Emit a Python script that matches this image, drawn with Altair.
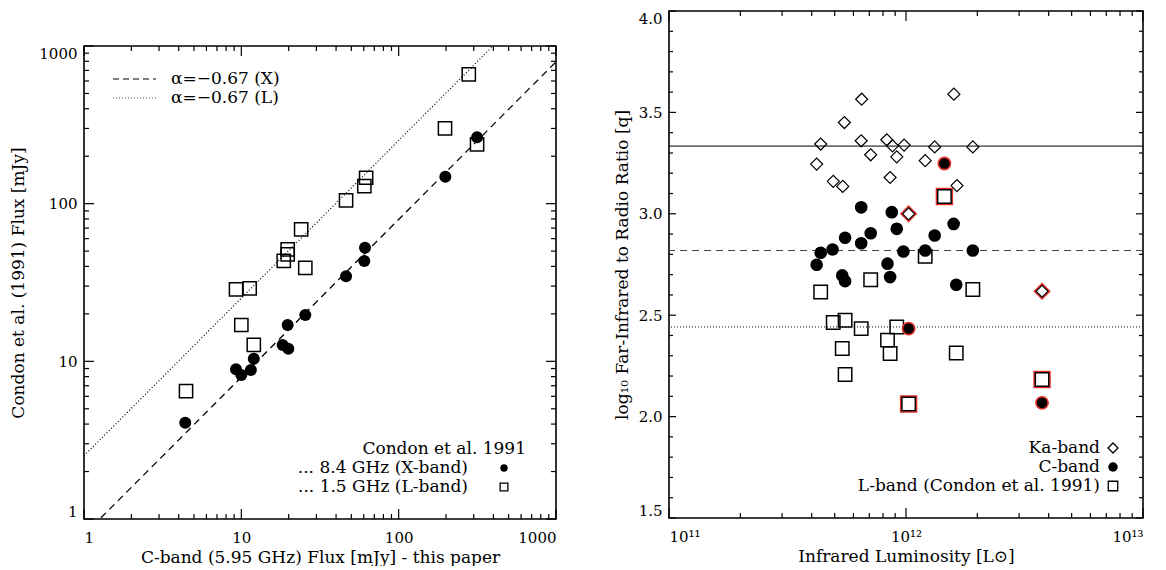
import altair as alt
import pandas as pd

FONT = "DejaVu Serif"

# ---------------- Left panel: C-band vs Condon et al. (1991) fluxes [mJy] ----------------
cband_for_x = [4.4, 9.25, 10.0, 11.5, 12.0, 18.3, 19.9, 19.7, 25.5, 46.3, 60.5, 61.1, 198, 315]
xband_flux = [4.08, 8.9, 8.2, 8.8, 10.4, 12.7, 12.0, 17.0, 19.7, 34.7, 43.3, 52.5, 148, 264]
cband_for_l = [4.45, 9.25, 10.0, 11.3, 12.0, 18.6, 19.7, 19.7, 24.0, 25.5, 46.3, 60.5, 62.1, 197, 279, 315]
lband_flux = [6.48, 28.6, 17.0, 29.0, 12.7, 43.3, 47.7, 51.3, 68.7, 39.2, 105, 129, 146, 300, 661, 238]

alpha = -0.67
nu_c, nu_x, nu_l = 5.95, 8.4, 1.5
line_x = [1, 1000]

# ---------------- Right panel: q vs infrared luminosity ----------------
ka_logL = [11.813, 12.202, 11.740, 11.640, 11.811, 11.919, 11.943, 11.992, 12.121, 12.282,
           11.851, 11.961, 11.623, 12.081, 11.693, 11.733, 11.933, 12.215, 12.011, 12.574]
ka_q = [3.565, 3.590, 3.450, 3.344, 3.360, 3.365, 3.335, 3.339, 3.330, 3.330,
        3.291, 3.281, 3.245, 3.262, 3.160, 3.135, 3.179, 3.139, 3.000, 2.618]
ka_flag = [0] * 18 + [1, 1]

c_logL = [11.811, 11.940, 11.961, 12.201, 11.851, 11.743, 12.121, 11.811, 11.690, 11.640,
          11.989, 12.081, 12.282, 11.623, 11.922, 11.731, 11.743, 11.933, 12.212,
          12.162, 12.011, 12.574]
c_q = [3.032, 3.008, 2.926, 2.950, 2.904, 2.882, 2.893, 2.855, 2.824, 2.808,
       2.814, 2.819, 2.819, 2.749, 2.754, 2.696, 2.668, 2.688, 2.650,
       3.248, 2.434, 2.068]
c_flag = [0] * 19 + [1, 1, 1]

l_logL = [12.081, 11.851, 11.640, 12.282, 11.693, 11.743, 11.811, 11.961, 11.922, 11.731,
          11.933, 12.212, 11.743, 12.011, 12.574, 12.162]
l_q = [2.790, 2.675, 2.614, 2.627, 2.464, 2.475, 2.434, 2.442, 2.377, 2.336,
       2.311, 2.314, 2.208, 2.062, 2.183, 3.085]
l_flag = [0] * 13 + [1, 1, 1]

q_mean_ka, q_mean_c, q_mean_l = 3.334, 2.819, 2.442

# tick positions
left_major = [1, 10, 100, 1000]
left_minor = [m * d for d in (1, 10, 100) for m in range(2, 10)]
right_x_major = [1e11, 1e12, 1e13]
right_x_minor = [m * d for d in (1e11, 1e12) for m in range(2, 10)]
right_y_major = [1.5, 2.0, 2.5, 3.0, 3.5, 4.0]
right_y_minor = [round(1.5 + 0.1 * i, 1) for i in range(26) if i % 5 != 0]

W1, H1 = 472, 473
W2, H2 = 474, 507
LEG = 17

one = pd.DataFrame({"k": [0]})

# ---------------- scales and shared axes ----------------
xs1 = alt.Scale(type="log", domain=[1, 1000], nice=False)
ys1 = alt.Scale(type="log", domain=[1, 1000], nice=False)
xs2 = alt.Scale(type="log", domain=[1e11, 1e13], nice=False)
ys2 = alt.Scale(domain=[1.5, 4.0], nice=False, zero=False)

ax1x = alt.Axis(values=left_major, format="d", title="C-band (5.95 GHz) Flux [mJy] - this paper",
                labelPadding=11, titlePadding=4)
ax1y = alt.Axis(values=left_major, format="d", labelFlush=True,
                title="Condon et al. (1991) Flux [mJy]", labelPadding=7, titlePadding=11)
ax2x = alt.Axis(values=right_x_major,
                labelExpr="'10' + (round(log(datum.value)/LN10) == 11 ? '¹¹' : "
                          "(round(log(datum.value)/LN10) == 12 ? '¹²' : '¹³'))",
                title="Infrared Luminosity [L⊙]", labelPadding=11, titlePadding=4)
ax2y = alt.Axis(values=right_y_major, format=".1f", labelFlush=True,
                title="log₁₀ Far-Infrared to Radio Ratio [q]", labelPadding=7, titlePadding=7)


def text_layer(s, x, y, align="right", size=LEG):
    return alt.Chart(one).mark_text(text=s, align=align, baseline="middle", font=FONT,
                                    fontSize=size, color="black").encode(
        x=alt.value(x), y=alt.value(y))


def symbol_layer(shape, x, y, size, filled, sw=1.3):
    return alt.Chart(one).mark_point(shape=shape, filled=filled, size=size, color="black",
                                     opacity=1, strokeWidth=sw).encode(
        x=alt.value(x), y=alt.value(y))


def tick_layers(xmaj, xmin, ymaj, ymin, xs, ys, axx, axy, W, H, lx_maj, lx_min, ly_maj, ly_min):
    layers = []
    for vals, L in ((xmaj, lx_maj), (xmin, lx_min)):
        df = pd.DataFrame({"v": vals})
        for y0, y1 in ((H, H - L), (0, L)):
            layers.append(alt.Chart(df).mark_rule(color="black", strokeWidth=1.2).encode(
                x=alt.X("v:Q", scale=xs, axis=axx), y=alt.value(y0), y2=alt.value(y1)))
    for vals, L in ((ymaj, ly_maj), (ymin, ly_min)):
        df = pd.DataFrame({"v": vals})
        for x0, x1 in ((0, L), (W, W - L)):
            layers.append(alt.Chart(df).mark_rule(color="black", strokeWidth=1.2).encode(
                y=alt.Y("v:Q", scale=ys, axis=axy), x=alt.value(x0), x2=alt.value(x1)))
    return layers


# ---------------- build left panel ----------------
df_x = pd.DataFrame({"x": cband_for_x, "y": xband_flux})
df_l = pd.DataFrame({"x": cband_for_l, "y": lband_flux})
df_line_x = pd.DataFrame({"x": line_x, "y": [v * (nu_x / nu_c) ** alpha for v in line_x]})
df_line_l = pd.DataFrame({"x": line_x, "y": [v * (nu_l / nu_c) ** alpha for v in line_x]})

X1 = alt.X("x:Q", scale=xs1, axis=ax1x)
Y1 = alt.Y("y:Q", scale=ys1, axis=ax1y)

line_xb = alt.Chart(df_line_x).mark_line(clip=True, color="black", strokeWidth=1.3,
                                          strokeDash=[7, 5]).encode(x=X1, y=Y1)
line_lb = alt.Chart(df_line_l).mark_line(clip=True, color="black", strokeWidth=1.2,
                                          strokeDash=[1, 2.2]).encode(x=X1, y=Y1)
sq_left = alt.Chart(df_l).mark_point(shape="square", filled=False, size=175, color="black",
                                     opacity=1, strokeWidth=1.5).encode(x=X1, y=Y1)
circ_left = alt.Chart(df_x).mark_circle(size=144, color="black", opacity=1).encode(x=X1, y=Y1)

leg_left = [
    alt.Chart(one).mark_rule(color="#555", strokeWidth=1.3, strokeDash=[6, 4]).encode(
        x=alt.value(29), x2=alt.value(72), y=alt.value(33)),
    alt.Chart(one).mark_rule(color="#555", strokeWidth=1.2, strokeDash=[1, 2]).encode(
        x=alt.value(29), x2=alt.value(72), y=alt.value(52)),
    text_layer("α=−0.67 (X)", 87, 33, align="left"),
    text_layer("α=−0.67 (L)", 87, 52, align="left"),
    text_layer("Condon et al. 1991", 442, 403),
    text_layer("... 8.4 GHz (X-band)", 384, 422),
    text_layer("... 1.5 GHz (L-band)", 384, 441),
    symbol_layer("circle", 420, 422, 55, True),
    symbol_layer("square", 420, 441, 60, False),
]

left = alt.layer(
    *tick_layers(left_major, left_minor, left_major, left_minor, xs1, ys1, ax1x, ax1y,
                 W1, H1, 10, 5, 10, 5),
    line_xb, line_lb, sq_left, circ_left, *leg_left
).properties(width=W1, height=H1)

spacer = alt.Chart(one).mark_point(opacity=0, size=1).encode(
    x=alt.value(10), y=alt.value(10)
).properties(width=W1, height=33, view=alt.ViewBackground(strokeOpacity=0))

left_col = alt.vconcat(spacer, left, spacing=0)

# ---------------- build right panel ----------------
df_ka = pd.DataFrame({"L": [10 ** v for v in ka_logL], "q": ka_q, "flag": ka_flag})
df_c = pd.DataFrame({"L": [10 ** v for v in c_logL], "q": c_q, "flag": c_flag})
df_lb = pd.DataFrame({"L": [10 ** v for v in l_logL], "q": l_q, "flag": l_flag})

X2 = alt.X("L:Q", scale=xs2, axis=ax2x)
Y2 = alt.Y("q:Q", scale=ys2, axis=ax2y)

hl = [
    alt.Chart(pd.DataFrame({"q": [q_mean_ka]})).mark_rule(color="black", strokeWidth=1).encode(y=Y2),
    alt.Chart(pd.DataFrame({"q": [q_mean_c]})).mark_rule(color="#444", strokeWidth=1.2,
                                                          strokeDash=[7, 5]).encode(y=Y2),
    alt.Chart(pd.DataFrame({"q": [q_mean_l]})).mark_rule(color="black", strokeWidth=1,
                                                          strokeDash=[1, 2]).encode(y=Y2),
]

sq_red = alt.Chart(df_lb).transform_filter("datum.flag == 1").mark_point(
    shape="square", filled=False, size=250, stroke="#e8302a", opacity=1, strokeWidth=1.6
).encode(x=X2, y=Y2)
sq_blk = alt.Chart(df_lb).mark_point(
    shape="square", filled=False, size=180, color="black", opacity=1, strokeWidth=1.5
).encode(x=X2, y=Y2)
c_blk = alt.Chart(df_c).transform_filter("datum.flag == 0").mark_circle(
    size=160, color="black", opacity=1
).encode(x=X2, y=Y2)
c_red = alt.Chart(df_c).transform_filter("datum.flag == 1").mark_point(
    shape="circle", filled=True, fill="black", stroke="#e8302a", size=150, opacity=1,
    strokeWidth=1.6
).encode(x=X2, y=Y2)
ka_blk = alt.Chart(df_ka).mark_point(
    shape="diamond", filled=False, size=144, color="black", opacity=1, strokeWidth=1.2
).encode(x=X2, y=Y2)
ka_red = alt.Chart(df_ka).transform_filter("datum.flag == 1").mark_point(
    shape="diamond", filled=False, size=230, stroke="#e8302a", opacity=1, strokeWidth=1.6
).encode(x=X2, y=Y2)

leg_right = [
    text_layer("Ka-band", 431, 437),
    text_layer("C-band", 431, 456),
    text_layer("L-band (Condon et al. 1991)", 431, 475),
    symbol_layer("diamond", 444, 437, 100, False),
    symbol_layer("circle", 444, 456, 90, True),
    symbol_layer("square", 444, 475, 90, False),
]

right = alt.layer(
    *tick_layers(right_x_major, right_x_minor, right_y_major, right_y_minor, xs2, ys2, ax2x, ax2y,
                 W2, H2, 10, 5, 7, 4),
    *hl, sq_red, sq_blk, c_blk, c_red, ka_red, ka_blk, *leg_right
).properties(width=W2, height=H2)

chart = alt.hconcat(left_col, right, spacing=54).properties(
    padding={"left": 1, "top": 1, "right": 0, "bottom": 0}
).configure_view(
    stroke="black", strokeWidth=1.6
).configure_axis(
    labelFont=FONT, labelFontSize=15, labelColor="black",
    titleFont=FONT, titleFontSize=17, titleFontWeight="normal", titleColor="black",
    grid=False, ticks=False, domain=False
)

chart.save("out.html", embed_options={"renderer": "svg", "actions": False})
